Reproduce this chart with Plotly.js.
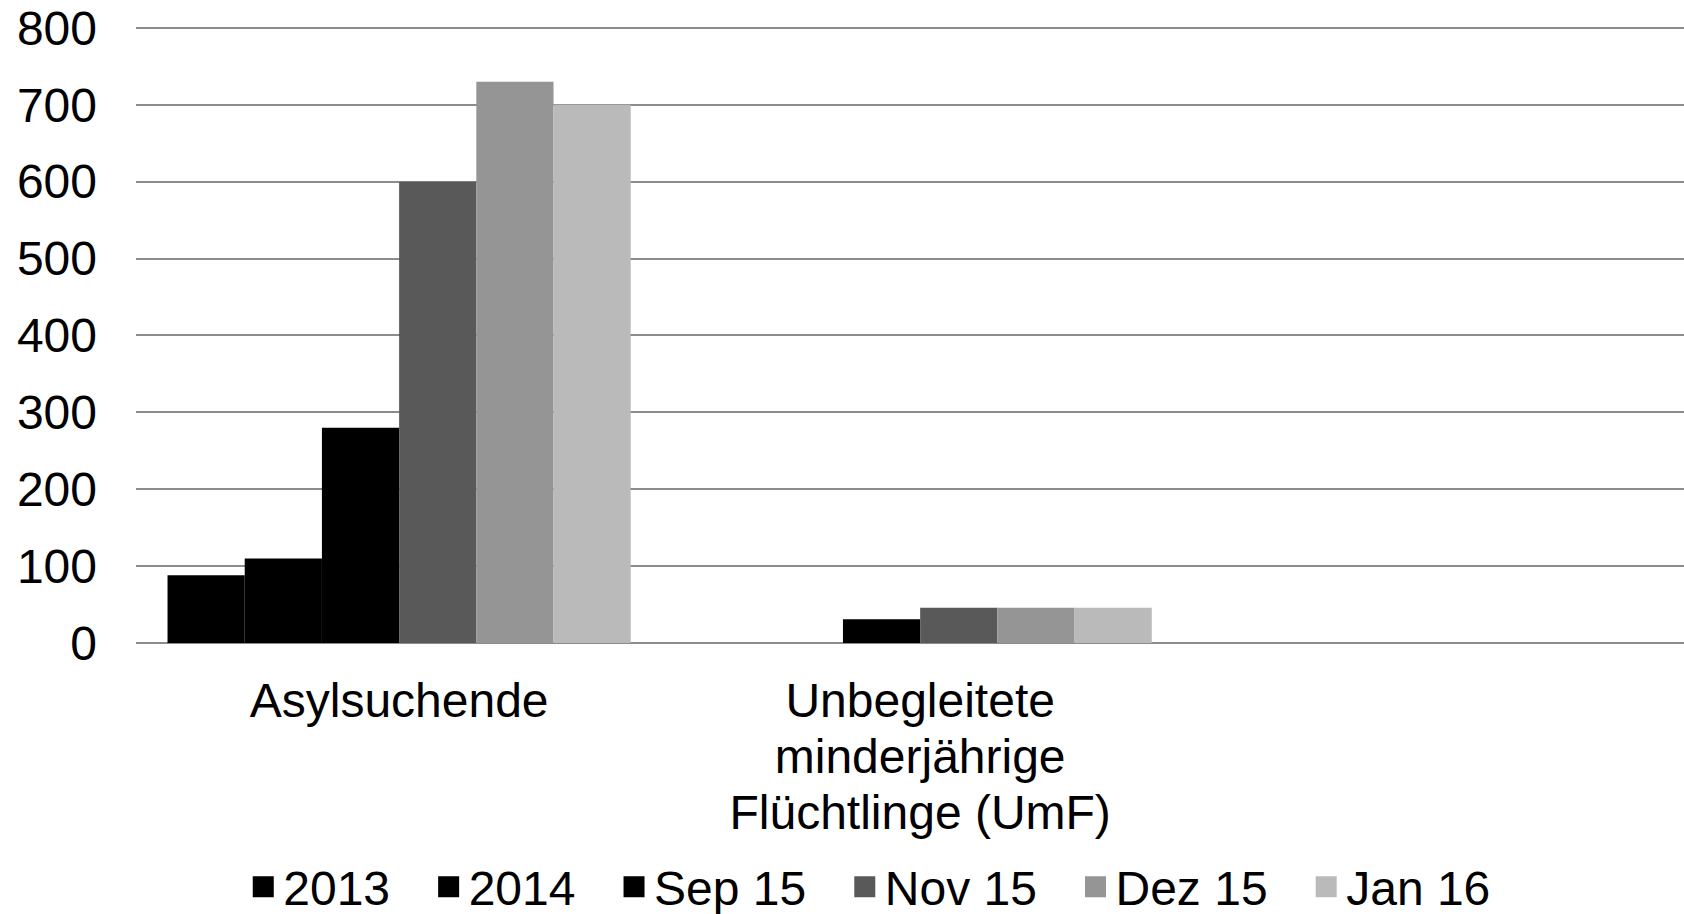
<!DOCTYPE html>
<html>
<head>
<meta charset="utf-8">
<script src="https://cdn.plot.ly/plotly-3.0.1.min.js"></script>
<style>html,body{margin:0;padding:0;background:#fff;}#chart{width:1684px;height:914px;}</style>
</head>
<body>
<div id="chart"></div>
<script>
const categories = ['Asylsuchende', 'Unbegleitete minderjährige Flüchtlinge (UmF)', ' '];
const categoryLabelLines = [['Asylsuchende'], ['Unbegleitete', 'minderjährige', 'Flüchtlinge (UmF)'], [' ']];
const seriesNames = ['2013', '2014', 'Sep 15', 'Nov 15', 'Dez 15', 'Jan 16'];
const v2013 = [88, null, null];
const v2014 = [110, null, null];
const vSep15 = [280, 31, null];
const vNov15 = [600, 46, null];
const vDez15 = [730, 46, null];
const vJan16 = [700, 46, null];
const seriesValues = [v2013, v2014, vSep15, vNov15, vDez15, vJan16];
const seriesColors = ['#000000', '#000000', '#000000', '#595959', '#959595', '#bababa'];

const FAM = '"Liberation Sans", Arial, sans-serif';
const TXT = 48;
const font = {family: FAM, size: TXT, color: '#000'};

const traces = [];
seriesNames.forEach((n, i) => {
  traces.push({
    type: 'bar', name: n, x: categories, y: seriesValues[i], legendgroup: n, showlegend: false,
    marker: {color: seriesColors[i], line: {width: 0}}, hoverinfo: 'skip'
  });
});
seriesNames.forEach((n, i) => {
  const label = i < seriesNames.length - 1 ? n + '\u2002\u2009' : n;
  traces.push({
    type: 'scatter', mode: 'markers', name: label, x: [null], y: [null], legendgroup: n,
    marker: {symbol: 'square', size: 24, color: seriesColors[i], line: {width: 5, color: seriesColors[i]}},
    hoverinfo: 'skip'
  });
});

const tickText = categoryLabelLines.map(lines =>
  lines.map(l => '<span style="font-size:' + TXT + 'px">' + l + '</span>').join('<br>'));

const layout = {
  width: 1684, height: 914,
  margin: {l: 136, r: 0, t: 24, b: 271, pad: 0},
  paper_bgcolor: '#fff', plot_bgcolor: '#fff',
  font: font,
  barmode: 'group', bargap: 0.111, bargroupgap: 0,
  showlegend: true,
  legend: {orientation: 'h', x: 0.474, xanchor: 'center', yref: 'container', y: 0.0295, yanchor: 'middle',
           font: font, itemwidth: 30, traceorder: 'normal', itemsizing: 'trace'},
  xaxis: {type: 'category', range: [-0.505, 2.466], showgrid: false, showline: false, zeroline: false,
          tickmode: 'array', tickvals: categories, ticktext: tickText,
          ticks: '', ticklabelstandoff: 30, tickfont: {family: FAM, size: 43, color: '#000'}, fixedrange: true},
  yaxis: {range: [0, 805], tickvals: [0, 100, 200, 300, 400, 500, 600, 700, 800], showgrid: true, gridcolor: '#8c8c8c', gridwidth: 2,
          zeroline: true, zerolinecolor: '#8c8c8c', zerolinewidth: 2, showline: false,
          ticks: '', ticklabelstandoff: 38, tickfont: font, fixedrange: true}
};
Plotly.newPlot('chart', traces, layout, {displayModeBar: false, staticPlot: true});
</script>
</body>
</html>
